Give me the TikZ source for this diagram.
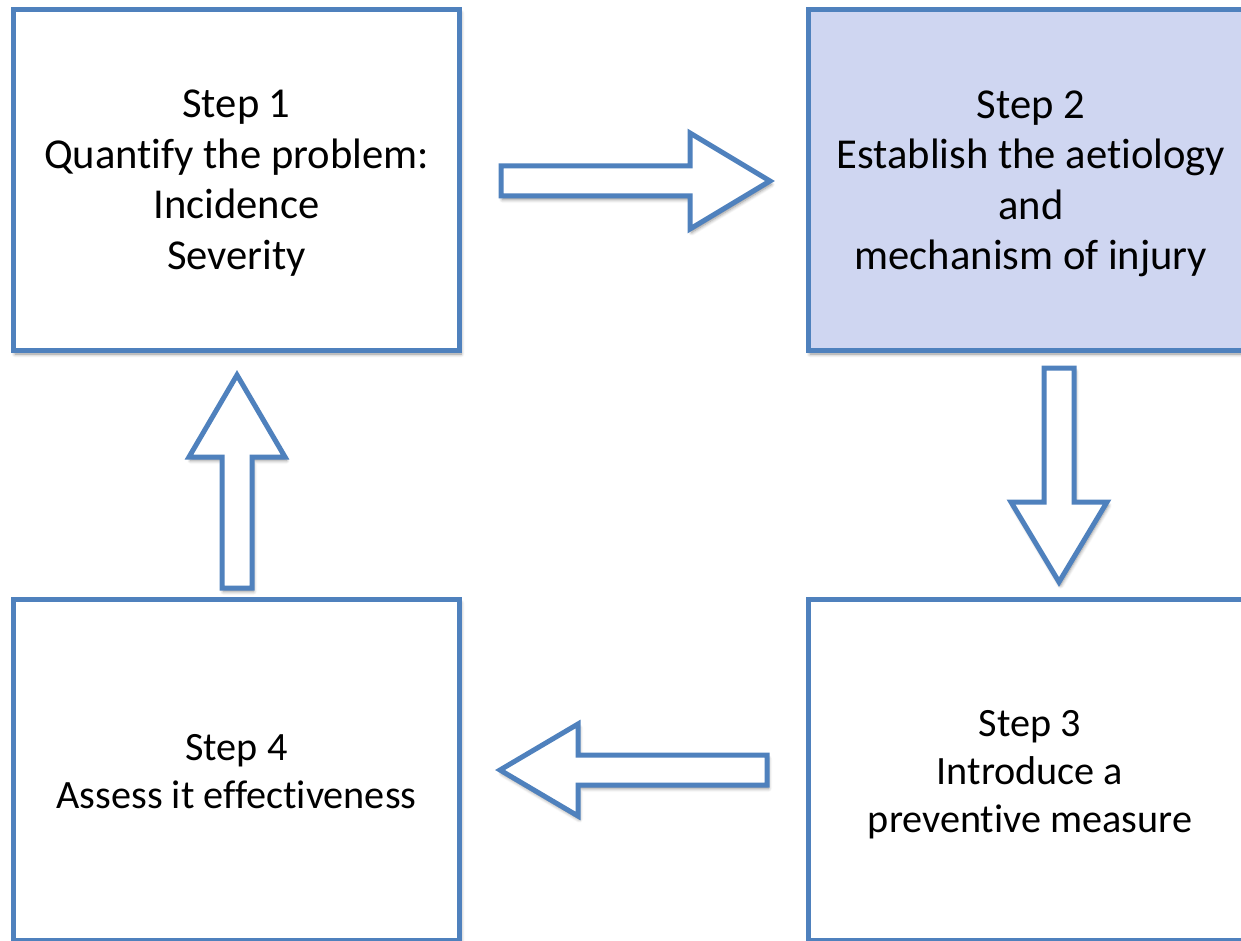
\documentclass[tikz,border=0pt]{standalone}
\usepackage{fontspec}
\setmainfont{Carlito}[Ligatures=NoCommon]
\usetikzlibrary{shadows.blur}
\definecolor{boxblue}{RGB}{79,129,189}
\definecolor{boxfill}{RGB}{207,214,241}
\begin{document}
\begin{tikzpicture}[x=1pt,y=-1pt,
  shade/.style={blur shadow={shadow xshift=1.5pt,shadow yshift=-3.5pt,shadow blur radius=3.5pt,shadow blur steps=6,shadow opacity=45}},
  stepbox/.style={draw=boxblue,line width=5pt,fill=white,minimum width=446pt,minimum height=341pt,inner sep=0pt,shade},
  bigtext/.style={font=\fontsize{42.6}{50.4}\selectfont,align=center,inner sep=0pt},
  smalltext/.style={font=\fontsize{40.2}{48}\selectfont,align=center,inner sep=0pt},
  blockarrow/.style={draw=boxblue,line width=5pt,fill=white,line join=miter,shade}]
\useasboundingbox (0,0) rectangle (1241,941);
\clip (0,0) rectangle (1241,941);
% boxes
\node[stepbox] (b1) at (236.5,180) {};
\node[stepbox,fill=boxfill] (b2) at (1031.5,180) {};
\node[stepbox] (b3) at (1031.5,770) {};
\node[stepbox] (b4) at (236.5,770) {};
% texts
\node[bigtext] (t1) at (236.5,183.2) {Step 1\\Quantify the problem:\\Incidence\\Severity};
\node[bigtext] (t2) at (1031,183.8) {Step 2\\Establish the aetiology\\and\\mechanism of injury};
\node[smalltext] (t3) at (1030,774.5) {Step 3\\Introduce a\\preventive measure};
\node[smalltext] (t4) at (236.5,771.5) {Step 4\\Assess it effectiveness};
% block arrows
\path[blockarrow] (501,166) -- (690,166) -- (690,133) -- (770,181) -- (690,229) -- (690,196) -- (501,196) -- cycle;
\path[blockarrow] (1044,368) -- (1074,368) -- (1074,502) -- (1107,502) -- (1059,582) -- (1011,502) -- (1044,502) -- cycle;
\path[blockarrow] (767,755) -- (578,755) -- (578,724) -- (500,770) -- (578,816) -- (578,785) -- (767,785) -- cycle;
\path[blockarrow] (222,588) -- (252,588) -- (252,457) -- (285,457) -- (237,375) -- (189,457) -- (222,457) -- cycle;
\end{tikzpicture}
\end{document}
